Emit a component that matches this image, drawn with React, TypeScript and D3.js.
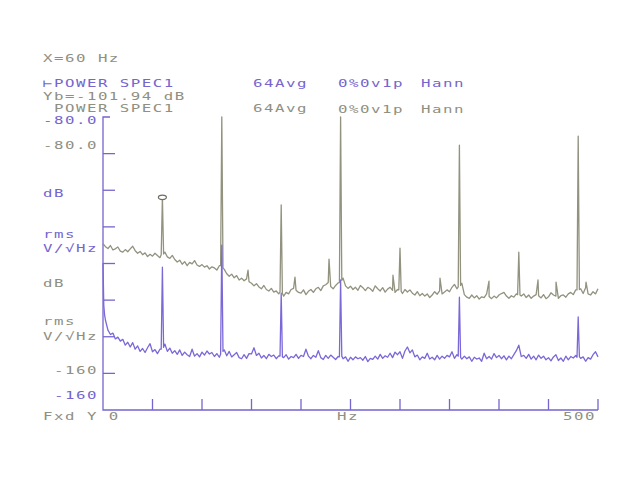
import * as d3 from "d3";

// spectrum analyzer screen: two power spectra, 0-500 Hz, -80..-160 dB
const STEP_HZ = 2.5;
const xTicksHz = [50, 100, 150, 200, 250, 300, 350, 400, 450, 500];
const yTicksDb = [-150, -140, -130, -120, -110, -100, -90];

// trace B (gray) levels every 2.5 Hz, dB
const grayLevels = [
  -114.6, -115.4, -115.9, -115.1, -116.3, -116.0, -115.5, -116.6, -116.9, -116.2,
  -116.8, -116.0, -115.3, -116.5, -117.2, -116.7, -117.6, -117.1, -118.1, -117.5,
  -118.0, -117.2, -117.8, -118.4, -101.94, -116.9, -118.2, -118.6, -117.8, -118.9,
  -119.6, -119.1, -120.2, -119.5, -120.6, -119.7, -120.1, -119.2, -120.4, -120.8,
  -120.3, -121.0, -120.6, -121.5, -120.9, -121.2, -121.8, -120.6, -80.0, -121.6,
  -122.8, -123.5, -122.9, -123.9, -123.3, -124.5, -124.0, -124.7, -124.2, -125.0,
  -125.4, -126.1, -125.5, -126.4, -126.9, -126.0, -127.1, -127.5, -126.8, -127.8,
  -127.5, -128.3, -104.0, -128.9, -127.9, -128.3, -127.1, -126.8, -127.3, -127.9,
  -128.1, -127.2, -128.5, -127.6, -127.1, -127.9, -126.9, -126.5, -127.4, -126.1,
  -125.8, -125.2, -126.3, -126.9, -126.0, -125.3, -80.0, -124.0, -126.1, -126.8,
  -126.2, -127.1, -126.5, -127.3, -126.0, -126.6, -127.4, -126.5, -126.9, -127.6,
  -126.1, -126.9, -127.5, -126.6, -127.8, -127.0, -126.5, -127.3, -127.9, -127.1,
  -115.8, -128.2, -127.1, -127.8, -127.2, -128.1, -128.6, -127.7, -128.8, -128.2,
  -128.9, -128.3, -129.3, -128.6, -127.7, -128.4, -127.5, -128.3, -127.8, -127.2,
  -127.7, -126.5, -125.7, -126.9, -87.7, -125.4, -128.5, -129.2, -129.5, -128.6,
  -129.4, -128.8, -129.7, -129.1, -129.3, -128.3, -129.0, -129.6, -128.9, -129.4,
  -128.6, -128.2, -127.9, -128.9, -129.5, -128.8, -129.2, -128.3, -116.9, -128.9,
  -128.3, -129.3, -128.6, -129.5, -128.9, -128.5, -128.8, -129.4, -128.5, -129.6,
  -129.1, -128.0, -128.6, -128.9, -129.5, -128.8, -128.6, -129.2, -128.3, -127.9,
  -128.5, -127.2, -85.2, -126.9, -128.2, -126.6, -128.3, -128.6, -127.7, -128.3,
  -126.9,
];

// off-grid points of trace B: spurs and peak shoulders [Hz, dB]
const grayExtra: [number, number][] = [
  [58.8, -117.6], [61.2, -117.4], [118.8, -120.6], [121.2, -121.2],
  [146.5, -121.8], [178.8, -127.8], [181.2, -128.2], [193.9, -123.7],
  [228.3, -118.8], [238.8, -125.2], [241.2, -124.6], [292.9, -123.2],
  [298.8, -127.2], [301.2, -127.6], [340.4, -124.0], [358.8, -126.4],
  [361.2, -126.0], [389.9, -124.8], [418.8, -128.5], [421.2, -128.6],
  [439.4, -124.5], [457.6, -125.1], [478.8, -127.2], [481.2, -127.1],
  [487.9, -125.1],
];

// trace A (purple) levels every 2.5 Hz, dB
const purpleLevels = [
  -119.9, -135.5, -138.2, -139.4, -139.0, -140.6, -140.1, -141.2, -140.7, -142.3,
  -141.5, -142.8, -141.6, -143.4, -142.5, -144.0, -143.2, -144.3, -143.0, -141.9,
  -144.1, -143.5, -144.6, -143.4, -121.0, -142.0, -144.0, -143.1, -144.5, -143.8,
  -144.8, -143.6, -145.1, -144.2, -144.9, -145.4, -143.4, -145.3, -144.6, -145.5,
  -144.2, -145.0, -143.9, -144.7, -144.3, -145.4, -144.6, -145.6, -115.0, -143.6,
  -145.2, -144.0, -145.5, -144.9, -144.3, -145.7, -146.0, -144.9, -145.9, -144.6,
  -144.7, -143.0, -145.1, -144.5, -145.8, -145.1, -146.0, -144.8, -145.4, -145.0,
  -146.0, -145.2, -128.1, -145.7, -144.9, -146.1, -145.4, -145.7, -144.8, -145.9,
  -145.1, -145.4, -143.4, -145.3, -146.0, -145.1, -145.6, -143.8, -145.7, -146.2,
  -145.1, -145.9, -145.0, -145.6, -146.2, -145.4, -124.5, -146.0, -145.5, -146.7,
  -145.6, -146.3, -145.5, -146.0, -145.7, -146.4, -145.4, -146.8, -145.9, -146.2,
  -145.3, -146.1, -144.8, -145.9, -145.2, -145.6, -144.5, -145.7, -144.2, -144.9,
  -144.1, -145.9, -143.9, -142.8, -144.4, -143.6, -145.5, -145.0, -146.3, -145.5,
  -145.9, -144.5, -146.1, -145.6, -146.3, -145.1, -146.1, -145.3, -145.9, -145.1,
  -145.5, -144.1, -145.9, -144.9, -129.2, -146.1, -145.3, -146.0, -145.5, -146.7,
  -145.6, -146.1, -145.8, -146.7, -144.5, -146.0, -145.4, -146.1, -144.6, -145.7,
  -145.1, -146.0, -145.2, -146.3, -145.3, -146.0, -144.9, -143.8, -142.3, -145.4,
  -145.1, -145.9, -144.8, -146.1, -145.3, -146.3, -145.0, -145.9, -145.3, -146.3,
  -145.7, -146.6, -145.5, -144.9, -146.5, -145.8, -146.7, -145.3, -146.3, -145.4,
  -145.8, -145.1, -134.6, -145.9, -145.5, -146.7, -145.7, -146.1, -144.9, -144.1,
  -145.5,
];

const purpleExtra: [number, number][] = [
  [0.8, -131.5], [1.6, -134.0], [58.8, -143.4], [61.2, -142.9],
  [118.8, -144.8], [121.2, -144.0], [178.8, -145.3], [181.2, -145.5],
  [238.8, -145.5], [241.2, -145.3], [358.8, -145.3], [361.2, -145.6],
  [478.8, -145.6], [481.2, -145.4],
];

const markerHz = 60;
const markerDb = -101.94;

const PURPLE = "#7465cf";
const GRAY = "#8f8f82";
const TRACE_GRAY = "#92927f";
const TRACE_PURPLE = "#7a68d8";

function buildSeries(levels: number[], extra: [number, number][]) {
  const pts: [number, number][] = levels.map((v, i) => [i * STEP_HZ, v]);
  return pts.concat(extra).sort((a, b) => a[0] - b[0]);
}

const Label = ({ x, y, text, color }: { x: number; y: number; text: string; color: string }) => (
  <text
    transform={`translate(${x},${y}) scale(1.5,1)`}
    fontFamily="DejaVu Sans Mono"
    fontSize={10.5}
    letterSpacing={1.0}
    fill={color}
    style={{ whiteSpace: "pre" }}
  >
    {text}
  </text>
);

export default function App() {
  const width = 621;
  const height = 480;
  const x = d3.scaleLinear().domain([0, 500]).range([103, 598]);
  const y = d3.scaleLinear().domain([-160, -80]).range([410, 117]);

  const line = d3
    .line<[number, number]>()
    .x((d) => x(d[0]))
    .y((d) => y(d[1]));

  const gray = buildSeries(grayLevels, grayExtra);
  const purple = buildSeries(purpleLevels, purpleExtra);

  return (
    <svg
      width={width}
      height={height}
      style={{ position: "absolute", left: 0, top: 0, background: "#fff" }}
    >
      {/* header */}
      <Label x={43} y={62} text="X=60 Hz" color={GRAY} />
      <Label x={43} y={87} text="⊢POWER SPEC1" color={PURPLE} />
      <Label x={253} y={87} text="64Avg" color={PURPLE} />
      <Label x={338} y={87} text="0%0v1p" color={PURPLE} />
      <Label x={421} y={87} text="Hann" color={PURPLE} />
      <Label x={43} y={100} text="Yb=-101.94 dB" color={GRAY} />
      <Label x={43} y={112} text=" POWER SPEC1" color={GRAY} />
      <Label x={253} y={112} text="64Avg" color={GRAY} />
      <Label x={338} y={113} text="0%0v1p" color={GRAY} />
      <Label x={421} y={113} text="Hann" color={GRAY} />

      {/* y labels */}
      <Label x={43} y={124} text="-80.0" color={PURPLE} />
      <Label x={43} y={149} text="-80.0" color={GRAY} />
      <Label x={43} y={197} text="dB" color={PURPLE} />
      <Label x={43} y={238} text="rms" color={PURPLE} />
      <Label x={43} y={252} text="V/√Hz" color={PURPLE} />
      <Label x={43} y={287} text="dB" color={GRAY} />
      <Label x={43} y={325} text="rms" color={GRAY} />
      <Label x={43} y={340} text="V/√Hz" color={GRAY} />
      <Label x={54} y={374} text="-160" color={GRAY} />
      <Label x={54} y={399} text="-160" color={PURPLE} />

      {/* x labels */}
      <Label x={43} y={420} text="Fxd Y 0" color={GRAY} />
      <Label x={337} y={420} text="Hz" color={GRAY} />
      <Label x={563} y={420} text="500" color={GRAY} />

      {/* axes */}
      <g stroke={PURPLE} strokeWidth={1.3} fill="none">
        <path d={`M${x(0) + 7},${y(-80)}H${x(0)}V${y(-160)}H${x(500)}`} />
        {yTicksDb.map((t) => (
          <line key={t} x1={x(0)} x2={x(0) + 12} y1={y(t)} y2={y(t)} />
        ))}
        {xTicksHz.map((t) => (
          <line key={t} x1={x(t)} x2={x(t)} y1={y(-160)} y2={y(-160) - 11} />
        ))}
      </g>

      {/* traces */}
      <path d={line(gray) ?? ""} fill="none" stroke={TRACE_GRAY} strokeWidth={1.3} strokeLinejoin="round" />
      <path d={line(purple) ?? ""} fill="none" stroke={TRACE_PURPLE} strokeWidth={1.3} strokeLinejoin="round" />

      {/* marker */}
      <ellipse
        cx={x(markerHz)}
        cy={y(markerDb)}
        rx={4}
        ry={2.2}
        fill="#fff"
        stroke="#6f6f66"
        strokeWidth={1.2}
      />
    </svg>
  );
}
